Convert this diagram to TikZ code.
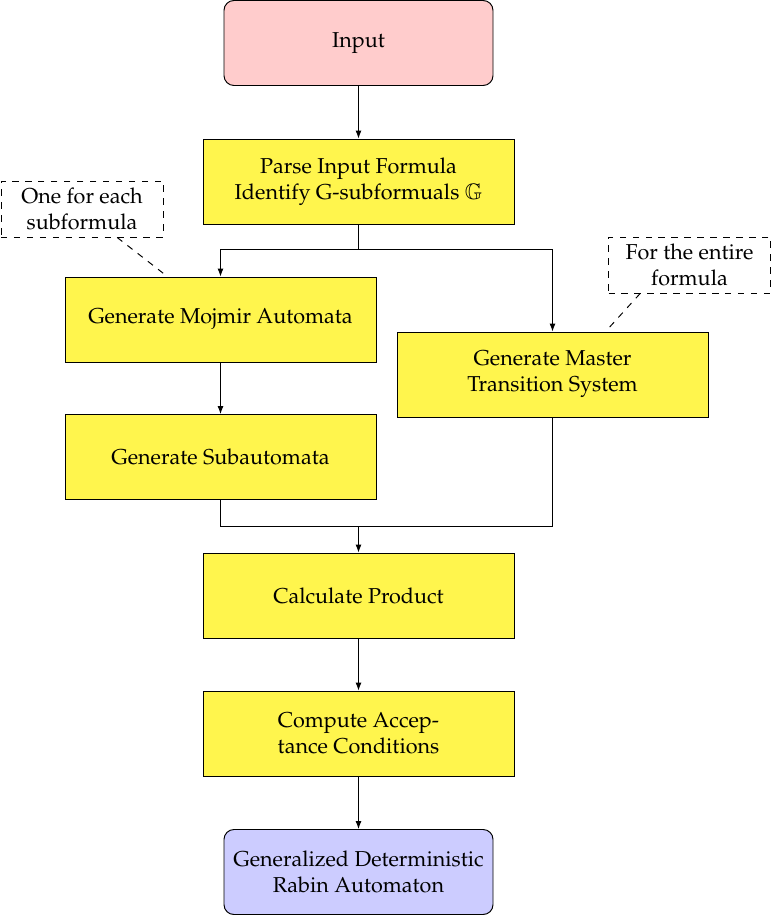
\documentclass[tikz,border=0pt]{standalone}
\usepackage[T1]{fontenc}
\usepackage[noBBpl]{mathpazo}
\usepackage{amssymb}
\usetikzlibrary{arrows.meta}
\definecolor{startrot}{HTML}{FFCCCC}
\definecolor{schrittgelb}{HTML}{FFF54D}
\definecolor{zielblau}{HTML}{CCCCFF}
\newcommand{\px}{0.4636pt}
\tikzset{kasten/.style={draw,fill=schrittgelb,line width=0.45pt,minimum width=311*\px,
    minimum height=85*\px,inner sep=0,align=center},
  rundkasten/.style={kasten,rounded corners=4.6pt,minimum width=269*\px},
  notiz/.style={draw,dashed,line width=0.45pt,minimum width=162*\px,minimum height=56*\px,
    inner sep=0,align=center},
  pfeil/.style={line width=0.45pt,-{Latex[length=3.7pt,width=2.8pt]}},
  linie/.style={line width=0.45pt},
  notizlinie/.style={line width=0.45pt,dashed}}

\begin{document}
\begin{tikzpicture}[x=\px,y=-\px]
\useasboundingbox (0,0) rectangle (772,916);
\node[rundkasten,fill=startrot] (input) at (358.5,43) {Input};
\node[kasten] (parse) at (358.5,181.5) {Parse Input Formula\\Identify G-subformuals $\mathbb{G}$};
\node[kasten] (mojmir) at (220.5,319.5) {Generate Mojmir Automata};
\node[kasten] (master) at (552.5,374.5) {Generate Master\\Transition System};
\node[kasten] (sub) at (220.5,457) {Generate Subautomata};
\node[kasten] (calc) at (358.5,595.5) {Calculate Product};
\node[kasten] (accept) at (358.5,733.5) {Compute Accep-\\tance Conditions};
\node[rundkasten,fill=zielblau] (gdra) at (358.5,872) {Generalized Deterministic\\Rabin Automaton};
\node[notiz] (notiza) at (82,209) {One for each\\subformula};
\node[notiz] (notizb) at (689.5,265) {For the entire\\formula};
\coordinate (gabel) at (358.5,249);
\coordinate (treff) at (358.5,526);
% Verbindungen
\draw[pfeil] (input) -- (parse);
\draw[linie] (parse) -- (gabel);
\draw[pfeil] (gabel) -| (mojmir);
\draw[pfeil] (gabel) -| (master);
\draw[pfeil] (mojmir) -- (sub);
\draw[linie] (sub) |- (treff);
\draw[linie] (master) |- (treff);
\draw[pfeil] (treff) -- (calc);
\draw[pfeil] (calc) -- (accept);
\draw[pfeil] (accept) -- (gdra);
\draw[notizlinie] (notiza.-39) -- (mojmir.141);
\draw[notizlinie] (notizb.-150.5) -- (master.39);
\end{tikzpicture}
\end{document}
